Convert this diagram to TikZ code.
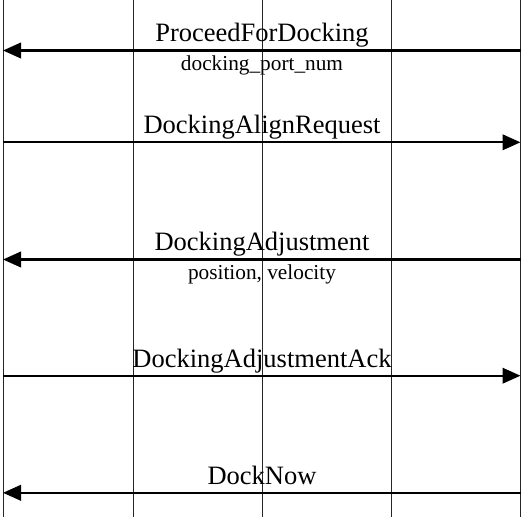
\documentclass[tikz,border=0pt]{standalone}
\usepackage{fontspec}
\setmainfont{Liberation Serif}
\usetikzlibrary{arrows.meta}
\begin{document}
\begin{tikzpicture}[x=1pt,y=-1pt,
  lifeline/.style={line width=0.9pt,draw=black!85},
  msg/.style={line width=2.3pt,-{Triangle[length=18pt,width=15.5pt]}},
  msgname/.style={anchor=base,inner sep=0pt,font=\fontsize{26.5}{30}\selectfont},
  msgparam/.style={anchor=base,inner sep=0pt,font=\fontsize{21.3}{25}\selectfont}]
\useasboundingbox (0,0) rectangle (523,517);
% lifelines
\foreach \n/\x in {a/3,b/133,c/262,d/391,e/520}{
  \coordinate (\n top) at (\x,0);
  \coordinate (\n bot) at (\x,517);
  \draw[lifeline] (\n top) -- (\n bot);
}
% message end points
\foreach \i/\y in {1/50.5,2/142.3,3/259.5,4/375.7,5/492.8}{
  \coordinate (L\i) at (3,\y);
  \coordinate (R\i) at (520.5,\y);
}
\draw[msg] (R1) -- (L1);
\draw[msg] (L2) -- (R2);
\draw[msg] (R3) -- (L3);
\draw[msg] (L4) -- (R4);
\draw[msg] (R5) -- (L5);
% labels
\node[msgname] (t1) at (262,41.8) {ProceedForDocking};
\node[msgparam] (p1) at (262,70.2) {docking\_port\_num};
\node[msgname] (t2) at (262,133) {DockingAlignRequest};
\node[msgname] (t3) at (262,250.8) {DockingAdjustment};
\node[msgparam] (p3) at (262,279.5) {position, velocity};
\node[msgname] (t4) at (262,367) {DockingAdjustmentAck};
\node[msgname] (t5) at (262,484.5) {DockNow};
\end{tikzpicture}
\end{document}
